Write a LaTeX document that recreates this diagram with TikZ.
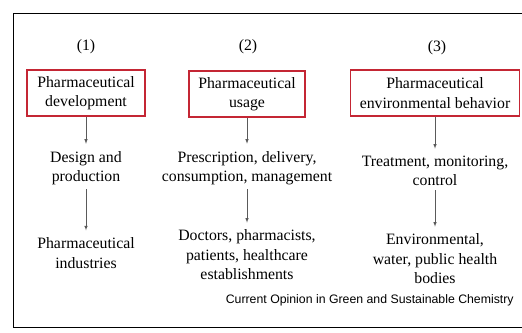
\documentclass[tikz,border=0pt]{standalone}
\usepackage{fontspec}
\setmainfont{Liberation Serif}
\setsansfont{Liberation Sans}
\usetikzlibrary{arrows,positioning}
\definecolor{boxred}{RGB}{196,38,52}
\definecolor{linkgray}{RGB}{90,90,90}

\begin{document}
\begin{tikzpicture}[x=1pt,y=-1pt,every node/.style={outer sep=0pt,align=center,
font=\fontsize{15.8}{19.5}\selectfont}]
\tikzstyle{stage}=[draw=boxred,line width=1.4pt,minimum height=46pt,inner sep=2pt]
\tikzstyle{link}=[-latex,draw=linkgray,line width=0.6pt,shorten >=4pt,shorten <=1pt]
\useasboundingbox (0,0) rectangle (522,332);
% frame, right side runs off the page
\draw [line width=1pt] (540,13) -- (13,13) -- (13,327) -- (540,327);
% column heads
\node (n1) at (86,47) {(1)};
\node (n2) at (248,47) {(2)};
\node (n3) at (437,48) {(3)};
% boxes
\node (dev) [stage,minimum width=118pt] at (86,93) {Pharmaceutical\\development};
\node (use) [stage,minimum width=116pt] at (247,94) {Pharmaceutical\\usage};
\node (env) [stage,minimum width=169pt] at (435,93) {Pharmaceutical\\environmental behavior};
% second row
\node (design) at (86,168) {Design and\\production};
\node (presc) at (247,168) {Prescription, delivery,\\consumption, management};
\node (treat) at (435,171) {Treatment, monitoring,\\control};
% third row
\node (ind) at (86,253) {Pharmaceutical\\industries};
\node (doc) at (247,255) {Doctors, pharmacists,\\patients, healthcare\\establishments};
\node (body) at (435,259) {Environmental,\\water, public health\\bodies};
% arrows
\draw [link] (dev) -- (design);
\draw [link] (use) -- (presc);
\draw [link] (env) -- (treat);
\draw [link] (design) -- (ind);
\draw [link] (presc) -- (doc);
\draw [link] (treat) -- (body);
\node (src) [font=\sffamily\fontsize{12.3}{14}\selectfont,anchor=east] at (517,300)
  {Current Opinion in Green and Sustainable Chemistry};
\end{tikzpicture}
\end{document}
